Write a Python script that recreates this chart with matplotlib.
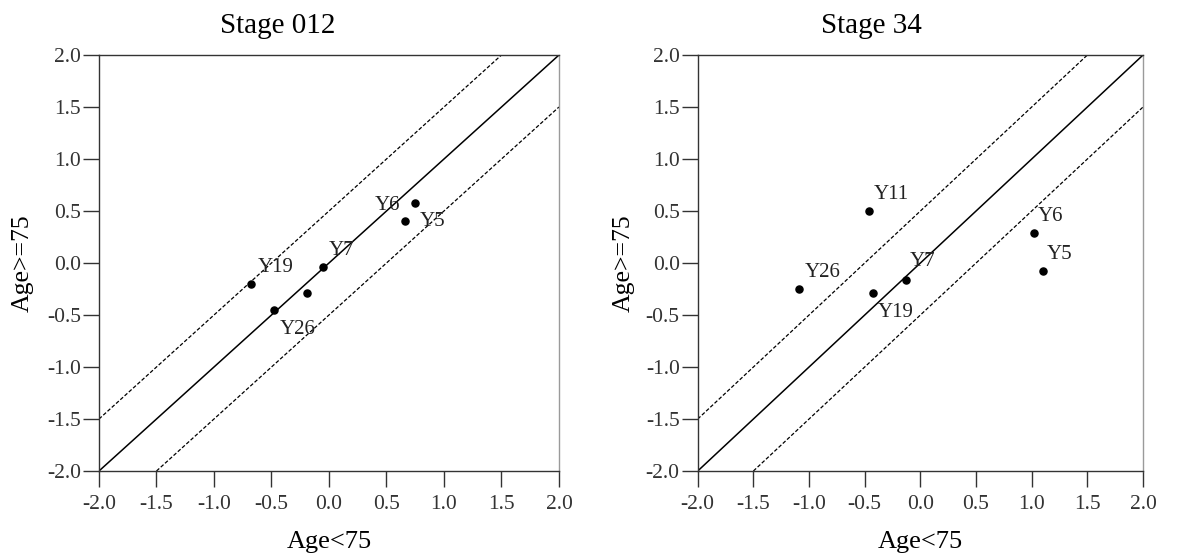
import matplotlib
matplotlib.use("Agg")
import matplotlib.pyplot as plt
import numpy as np

plt.rcParams['font.family'] = ['Liberation Serif', 'DejaVu Serif']

# ---- data ----
titles = ["Stage 012", "Stage 34"]
x_label = "Age<75"
y_label = "Age>=75"
ticks = [-2.0, -1.5, -1.0, -0.5, 0.0, 0.5, 1.0, 1.5, 2.0]
tick_labels = ["-2.0", "-1.5", "-1.0", "-0.5", "0.0", "0.5", "1.0", "1.5", "2.0"]

# Stage 012
s012_names = ["Y6", "Y5", "Y7", "Y19", "Y26", ""]
s012_x = [0.75, 0.66, -0.05, -0.68, -0.48, -0.19]
s012_y = [0.58, 0.40, -0.04, -0.20, -0.45, -0.29]
# Stage 34
s34_names = ["Y11", "Y6", "Y5", "Y7", "Y26", "Y19"]
s34_x = [-0.46, 1.02, 1.10, -0.13, -1.09, -0.43]
s34_y = [0.50, 0.29, -0.08, -0.16, -0.25, -0.29]

band = 0.5  # dashed reference lines at y = x +/- band

# label offsets (points)
s012_off = [(-20, -2), (20, 0), (13, 12), (18, 12), (17, -14), (0, 0)]
s34_off = [(16, 12), (12, 12), (12, 12), (12, 13), (17, 12), (17, -14)]

fig = plt.figure(figsize=(11.84, 5.58), dpi=100)
ax1 = fig.add_axes([0.0836, 0.1559, 0.3885, 0.7455])
ax2 = fig.add_axes([0.5893, 0.1559, 0.3761, 0.7455])

panels = [
    (ax1, titles[0], s012_names, s012_x, s012_y, s012_off),
    (ax2, titles[1], s34_names, s34_x, s34_y, s34_off),
]

for ax, title, names, xs, ys, offs in panels:
    lo, hi = ticks[0], ticks[-1]
    ax.set_xlim(lo, hi)
    ax.set_ylim(lo, hi)
    line = np.array([lo, hi])
    ax.plot(line, line, color='black', lw=1.1, zorder=2)
    ax.plot([lo, hi - band], [lo + band, hi], color='black', lw=0.9,
            dashes=(3, 1.6), zorder=2)
    ax.plot([lo + band, hi], [lo, hi - band], color='black', lw=0.9,
            dashes=(3, 1.6), zorder=2)
    ax.scatter(xs, ys, s=26, color='black', zorder=3, clip_on=False)
    for n, x, y, o in zip(names, xs, ys, offs):
        if n:
            ax.annotate(n, (x, y), xytext=o, textcoords='offset points',
                        ha='center', va='center', fontsize=15, color='#222222')
    ax.set_xticks(ticks)
    ax.set_xticklabels(tick_labels)
    ax.set_yticks(ticks)
    ax.set_yticklabels(tick_labels)
    ax.tick_params(axis='both', direction='out', length=11.5, width=1.0,
                   labelsize=15.5, labelcolor='#333333', color='#333333')
    ax.tick_params(axis='x', pad=6)
    ax.tick_params(axis='y', pad=1.5)
    for s in ['left', 'bottom', 'top']:
        ax.spines[s].set_color('#333333')
        ax.spines[s].set_linewidth(1.0)
    ax.spines['right'].set_color('#9a9a9a')
    ax.spines['right'].set_linewidth(1.0)
    ax.set_xlabel(x_label, fontsize=19, va='center')
    ax.xaxis.set_label_coords(0.5, -0.171)
    ax.set_ylabel(y_label, fontsize=18.5, va='center')
    ax.yaxis.set_label_coords(-0.166, 0.5)
    ax.text(0.389, 1.07, title, transform=ax.transAxes, ha='center',
            va='center', fontsize=21)

fig.savefig("out.png", dpi=100)
